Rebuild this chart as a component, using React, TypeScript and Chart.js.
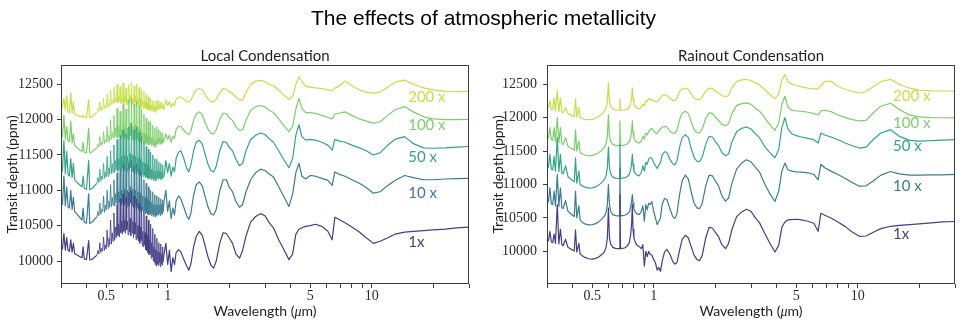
import React, { useEffect, useRef } from 'react';
import { Chart, registerables } from 'chart.js';

Chart.register(...registerables);

// ---------- wavelength grids (μm) ----------
const shortWaveLocal = [
  0.3, 0.305, 0.31, 0.315, 0.32, 0.325, 0.33, 0.335, 0.34, 0.345, 0.35, 0.355,
  0.36, 0.37, 0.38, 0.385, 0.39, 0.4, 0.41, 0.415, 0.42, 0.43, 0.44,
];

const forestWaveLocal = [
  0.45, 0.455, 0.46, 0.465, 0.47, 0.475, 0.48, 0.485, 0.49, 0.495,
  0.5, 0.505, 0.51, 0.515, 0.52, 0.525, 0.53, 0.535, 0.54, 0.545,
  0.55, 0.555, 0.56, 0.565, 0.57, 0.575, 0.58, 0.585, 0.59, 0.595,
  0.6, 0.605, 0.61, 0.615, 0.62, 0.625, 0.63, 0.635, 0.64, 0.645,
  0.65, 0.655, 0.66, 0.665, 0.67, 0.675, 0.68, 0.685, 0.69, 0.695,
  0.7, 0.705, 0.71, 0.715, 0.72, 0.725, 0.73, 0.735, 0.74, 0.745,
  0.75, 0.755, 0.76, 0.765, 0.77, 0.775, 0.78, 0.785, 0.79, 0.795,
  0.8, 0.805, 0.81, 0.815, 0.82, 0.825, 0.83, 0.835, 0.84, 0.845,
  0.85, 0.855, 0.86, 0.865, 0.87, 0.875, 0.88, 0.885, 0.89, 0.895,
  0.9, 0.905, 0.91, 0.915, 0.92, 0.925, 0.93, 0.935, 0.94, 0.945,
  0.95,
];

const shortWaveRainout = [
  0.3, 0.305, 0.31, 0.315, 0.32, 0.325, 0.33, 0.337,
  0.343, 0.349, 0.355, 0.36, 0.37, 0.38, 0.39, 0.4,
  0.408, 0.414, 0.42, 0.43, 0.436, 0.445, 0.46, 0.48,
  0.5, 0.52, 0.54, 0.56, 0.575, 0.585, 0.593, 0.6,
  0.607, 0.615, 0.63, 0.65, 0.67, 0.678, 0.683, 0.688,
  0.7, 0.72, 0.74, 0.76, 0.772, 0.78, 0.786, 0.792,
  0.8, 0.815, 0.83, 0.85, 0.87, 0.885, 0.9, 0.915,
  0.93, 0.945,
];

const irWave = [
  0.96, 0.98, 1.0, 1.02, 1.04, 1.06, 1.08, 1.1,
  1.13, 1.16, 1.2, 1.24, 1.27, 1.3, 1.34, 1.38,
  1.43, 1.48, 1.53, 1.58, 1.63, 1.68, 1.73, 1.8,
  1.87, 1.94, 2.0, 2.08, 2.16, 2.25, 2.33, 2.42,
  2.55, 2.7, 2.85, 3.0, 3.15, 3.3, 3.5, 3.7,
  3.93, 4.1, 4.25, 4.4, 4.55, 4.75, 5.0, 5.3,
  5.7, 6.1, 6.4, 6.6, 6.9, 7.4, 8.0, 8.7,
  9.4, 10.2, 11, 12, 13, 14.5, 16, 18,
  20, 23, 26, 30,
];

// ---------- Local condensation: transit depth (ppm) ----------
const local1x = [
  10160, 10170, 10390, 10155, 10330, 10145, 10140, 10300, 10125, 10250, 10105, 10095,
  10085, 10065, 10045, 10200, 10030, 10020, 10290, 10015, 10018, 10030, 10060,
  10080, 10150, 10100, 10260, 10120, 10180, 10140, 10340, 10150, 10230,
  10170, 10440, 10200, 10320, 10230, 10580, 10240, 10400, 10280, 10680,
  10300, 10480, 10330, 10800, 10360, 10520, 10340, 10880, 10400, 10560,
  10380, 10950, 10420, 10580, 10390, 10900, 10440, 10560, 10370, 10970,
  10410, 10600, 10360, 10990, 10400, 10560, 10330, 10920, 10380, 10540,
  10300, 10880, 10320, 10500, 10280, 10820, 10250, 10480, 10290, 10760,
  10220, 10420, 10200, 10700, 10230, 10400, 10160, 10640, 10150, 10360,
  10120, 10580, 10090, 10300, 10100, 10520, 10040, 10260, 10060, 10460,
  10000, 10200, 9980, 10380, 9950, 10160, 9930, 10320, 9960, 10140,
  9940, 10260, 9980, 10120, 9920, 10240, 9960, 10100, 9940, 10200,
  9990,
  10100, 10250, 9950, 10150, 9850, 10050, 9950, 10120,
  10160, 10130, 10020, 9930, 9870, 9960, 10200, 10350,
  10420, 10360, 10200, 10050, 9940, 9900, 10000, 10250,
  10400, 10390, 10330, 10250, 10100, 10040, 10150, 10350,
  10550, 10630, 10670, 10640, 10540, 10470, 10300, 10170,
  10020, 10100, 10380, 10450, 10470, 10490, 10500, 10520,
  10490, 10420, 10300, 10620, 10590, 10540, 10480, 10410,
  10330, 10250, 10280, 10330, 10380, 10410, 10420, 10430,
  10440, 10450, 10470, 10480,
];

const local10x = [
  10790, 10800, 11200, 10780, 11050, 10760, 10750, 11000, 10730, 10900, 10700, 10680,
  10660, 10620, 10580, 10750, 10550, 10535, 10950, 10530, 10540, 10560, 10600,
  10620, 10700, 10640, 10820, 10660, 10730, 10700, 10920, 10690, 10790,
  10720, 11000, 10740, 10850, 10760, 11080, 10770, 10900, 10790, 11150,
  10780, 10950, 10820, 11250, 10800, 10980, 10830, 11300, 10790, 11000,
  10820, 11380, 10780, 11020, 10810, 11320, 10760, 11000, 10800, 11400,
  10770, 11050, 10820, 11430, 10780, 11020, 10750, 11350, 10790, 11000,
  10730, 11380, 10760, 10980, 10720, 11300, 10750, 10960, 10700, 11250,
  10720, 10920, 10690, 11150, 10710, 10900, 10670, 11100, 10680, 10880,
  10660, 11050, 10650, 10850, 10670, 11000, 10640, 10830, 10660, 10980,
  10630, 10800, 10650, 10940, 10620, 10790, 10640, 10920, 10660, 10800,
  10650, 10900, 10680, 10790, 10640, 10880, 10670, 10800, 10660, 10860,
  10700,
  10850, 11000, 10700, 10850, 10600, 10750, 10650, 10850,
  10920, 10880, 10760, 10640, 10590, 10680, 10930, 11080,
  11120, 11060, 10900, 10760, 10670, 10650, 10730, 10990,
  11150, 11150, 11050, 10980, 10840, 10760, 10800, 10980,
  11150, 11250, 11300, 11280, 11230, 11190, 11050, 10920,
  10770, 10950, 11250, 11380, 11200, 11160, 11210, 11200,
  11170, 11140, 11070, 11260, 11230, 11200, 11150, 11100,
  11040, 10960, 10980, 11070, 11140, 11210, 11180, 11150,
  11150, 11160, 11165, 11170,
];

const local50x = [
  11250, 11280, 11700, 11240, 11550, 11220, 11200, 11450, 11180, 11380, 11150, 11130,
  11110, 11080, 11050, 11200, 11030, 11015, 11420, 11010, 11015, 11035, 11070,
  11100, 11180, 11110, 11300, 11130, 11200, 11160, 11380, 11170, 11260,
  11190, 11480, 11200, 11320, 11230, 11560, 11240, 11380, 11250, 11640,
  11260, 11420, 11290, 11720, 11270, 11450, 11300, 11780, 11280, 11480,
  11310, 11850, 11270, 11500, 11300, 11800, 11260, 11480, 11310, 11900,
  11280, 11520, 11320, 11950, 11270, 11500, 11250, 11860, 11290, 11480,
  11230, 11900, 11260, 11460, 11220, 11820, 11250, 11440, 11200, 11760,
  11230, 11400, 11190, 11680, 11210, 11380, 11180, 11620, 11190, 11360,
  11170, 11580, 11160, 11320, 11180, 11540, 11150, 11300, 11170, 11500,
  11140, 11280, 11160, 11450, 11130, 11260, 11150, 11440, 11170, 11280,
  11160, 11400, 11180, 11270, 11150, 11380, 11170, 11260, 11160, 11360,
  11190,
  11200, 11420, 11250, 11380, 11200, 11330, 11260, 11450,
  11540, 11560, 11450, 11310, 11260, 11360, 11560, 11680,
  11710, 11650, 11500, 11360, 11280, 11260, 11340, 11560,
  11690, 11680, 11610, 11560, 11440, 11350, 11380, 11560,
  11720, 11780, 11810, 11790, 11730, 11680, 11560, 11440,
  11320, 11450, 11780, 11925, 11760, 11710, 11720, 11710,
  11680, 11640, 11570, 11720, 11700, 11680, 11640, 11600,
  11560, 11500, 11530, 11640, 11720, 11760, 11660, 11600,
  11595, 11600, 11610, 11620,
];

const local100x = [
  11730, 11760, 12060, 11720, 11900, 11700, 11690, 11980, 11670, 11800, 11640, 11620,
  11600, 11570, 11550, 11680, 11540, 11530, 11880, 11530, 11535, 11550, 11580,
  11600, 11650, 11610, 11760, 11630, 11680, 11650, 11830, 11660, 11720,
  11680, 11900, 11690, 11780, 11700, 12000, 11720, 11820, 11740, 12060,
  11750, 11880, 11760, 12160, 11740, 11900, 11770, 12120, 11730, 11860,
  11760, 12220, 11720, 11900, 11760, 12150, 11710, 11880, 11750, 12280,
  11720, 11950, 11770, 12300, 11720, 11900, 11700, 12220, 11740, 11920,
  11700, 12260, 11730, 11880, 11690, 12200, 11720, 11860, 11670, 12150,
  11700, 11820, 11660, 12080, 11680, 11800, 11650, 12020, 11670, 11780,
  11650, 11980, 11640, 11760, 11660, 11960, 11630, 11740, 11650, 11920,
  11620, 11720, 11640, 11880, 11610, 11700, 11640, 11900, 11660, 11740,
  11650, 11860, 11680, 11740, 11650, 11830, 11670, 11730, 11660, 11810,
  11680,
  11700, 11800, 11720, 11780, 11680, 11760, 11740, 11860,
  11910, 11900, 11850, 11800, 11790, 11840, 11990, 12080,
  12110, 12070, 11950, 11860, 11810, 11800, 11860, 12000,
  12090, 12080, 12030, 11990, 11900, 11845, 11860, 11990,
  12130, 12185, 12200, 12180, 12130, 12100, 12010, 11920,
  11830, 11900, 12150, 12300, 12160, 12100, 12100, 12090,
  12060, 12030, 12010, 12080, 12090, 12110, 12060, 12010,
  11980, 11950, 11970, 12060, 12140, 12185, 12110, 12040,
  12010, 12000, 12000, 12005,
];

const local200x = [
  12120, 12200, 12300, 12130, 12340, 12110, 12100, 12380, 12090, 12250, 12080, 12070,
  12060, 12050, 12040, 12060, 12035, 12030, 12280, 12030, 12035, 12050, 12080,
  12110, 12160, 12120, 12250, 12125, 12180, 12140, 12300, 12150, 12200,
  12170, 12360, 12180, 12240, 12200, 12420, 12210, 12280, 12230, 12460,
  12240, 12300, 12250, 12500, 12235, 12320, 12260, 12470, 12230, 12290,
  12250, 12520, 12215, 12330, 12250, 12450, 12210, 12280, 12240, 12500,
  12220, 12350, 12260, 12530, 12230, 12300, 12200, 12480, 12240, 12330,
  12200, 12510, 12225, 12300, 12190, 12460, 12210, 12290, 12170, 12420,
  12190, 12260, 12160, 12400, 12180, 12250, 12150, 12350, 12160, 12230,
  12140, 12320, 12130, 12210, 12150, 12290, 12120, 12200, 12140, 12270,
  12110, 12190, 12130, 12260, 12100, 12180, 12130, 12280, 12150, 12200,
  12140, 12270, 12170, 12210, 12150, 12250, 12170, 12200, 12160, 12240,
  12180,
  12150, 12280, 12200, 12250, 12180, 12230, 12200, 12290,
  12320, 12320, 12290, 12255, 12250, 12280, 12360, 12420,
  12440, 12420, 12350, 12290, 12255, 12250, 12290, 12380,
  12440, 12430, 12400, 12370, 12320, 12280, 12280, 12380,
  12500, 12545, 12555, 12540, 12500, 12480, 12420, 12350,
  12285, 12330, 12500, 12605, 12540, 12470, 12460, 12450,
  12440, 12420, 12410, 12450, 12470, 12545, 12480, 12420,
  12390, 12375, 12390, 12460, 12530, 12560, 12500, 12450,
  12420, 12400, 12395, 12400,
];

// ---------- Rainout condensation: transit depth (ppm) ----------
const rainout1x = [
  10150, 10160, 10300, 10140, 10130, 10260, 10120, 10700,
  10110, 10330, 10095, 10085, 10180, 10060, 10040, 10020,
  10005, 10320, 9990, 10120, 9960, 9940, 9910, 9890,
  9885, 9895, 9920, 9960, 10000, 10070, 10200, 10650,
  10210, 10110, 10060, 10045, 10040, 10040, 10850, 10040,
  10045, 10050, 10075, 10130, 10260, 10420, 10700, 10330,
  10200, 10130, 10090, 10070, 10040, 10100, 9780, 10000,
  9920, 10000,
  9960, 9943, 9880, 9830, 9720, 9760, 9700, 9850,
  9990, 10030, 9960, 9850, 9810, 9830, 10020, 10180,
  10240, 10200, 10060, 9940, 9880, 9860, 9940, 10200,
  10360, 10350, 10290, 10220, 10100, 10040, 10120, 10330,
  10520, 10590, 10630, 10600, 10500, 10430, 10270, 10130,
  9990, 10090, 10360, 10440, 10470, 10475, 10480, 10470,
  10450, 10420, 10300, 10570, 10540, 10500, 10440, 10370,
  10290, 10225, 10230, 10290, 10340, 10375, 10390, 10400,
  10410, 10425, 10440, 10447,
];

const rainout10x = [
  10720, 10740, 10950, 10710, 10700, 10900, 10680, 11150,
  10670, 10950, 10650, 10640, 10760, 10600, 10570, 10540,
  10520, 10900, 10500, 10680, 10470, 10440, 10410, 10395,
  10400, 10415, 10445, 10490, 10530, 10590, 10700, 11000,
  10710, 10600, 10550, 10535, 10530, 10530, 11250, 10530,
  10535, 10540, 10555, 10590, 10670, 10750, 10850, 10720,
  10630, 10580, 10560, 10550, 10600, 10680, 10450, 10700,
  10620, 10720,
  10700, 10743, 10600, 10500, 10400, 10450, 10500, 10700,
  10790, 10780, 10640, 10520, 10490, 10560, 10850, 11060,
  11140, 11080, 10880, 10720, 10650, 10640, 10720, 10980,
  11140, 11130, 11060, 10980, 10830, 10750, 10800, 11020,
  11230, 11320, 11370, 11340, 11260, 11190, 11010, 10870,
  10745, 10900, 11200, 11320, 11220, 11200, 11190, 11185,
  11175, 11150, 11070, 11300, 11250, 11200, 11150, 11090,
  11030, 10975, 10980, 11060, 11140, 11195, 11160, 11140,
  11140, 11145, 11145, 11150,
];

const rainout50x = [
  11240, 11260, 11450, 11230, 11220, 11420, 11200, 11700,
  11190, 11450, 11170, 11160, 11280, 11120, 11090, 11060,
  11040, 11400, 11020, 11200, 11000, 10980, 10960, 10945,
  10950, 10965, 10995, 11040, 11080, 11140, 11250, 11560,
  11260, 11160, 11110, 11095, 11090, 11090, 11600, 11090,
  11095, 11100, 11115, 11150, 11230, 11320, 11450, 11300,
  11200, 11160, 11140, 11130, 11180, 11280, 11200, 11330,
  11300, 11380,
  11400, 11392, 11330, 11280, 11240, 11290, 11330, 11440,
  11490, 11480, 11380, 11310, 11290, 11350, 11560, 11700,
  11745, 11700, 11530, 11400, 11350, 11340, 11410, 11600,
  11720, 11710, 11650, 11580, 11480, 11430, 11460, 11640,
  11790, 11840, 11860, 11830, 11760, 11700, 11570, 11480,
  11400, 11520, 11850, 12000, 11830, 11760, 11730, 11710,
  11690, 11670, 11620, 11770, 11740, 11710, 11670, 11620,
  11580, 11545, 11560, 11680, 11770, 11820, 11720, 11660,
  11650, 11655, 11665, 11672,
];

const rainout100x = [
  11680, 11700, 11850, 11670, 11660, 11850, 11640, 12000,
  11630, 11850, 11610, 11600, 11700, 11570, 11550, 11530,
  11510, 11820, 11500, 11650, 11480, 11460, 11440, 11430,
  11435, 11450, 11480, 11520, 11560, 11620, 11720, 12040,
  11730, 11640, 11600, 11585, 11580, 11580, 11950, 11580,
  11585, 11590, 11605, 11640, 11710, 11800, 11950, 11780,
  11690, 11650, 11630, 11620, 11650, 11720, 11680, 11770,
  11740, 11790,
  11820, 11842, 11800, 11770, 11760, 11800, 11830, 11860,
  11870, 11860, 11800, 11770, 11765, 11810, 11970, 12070,
  12095, 12060, 11930, 11820, 11775, 11770, 11830, 11990,
  12070, 12065, 12010, 11960, 11900, 11880, 11910, 12060,
  12180, 12210, 12220, 12200, 12140, 12100, 12000, 11900,
  11810, 11920, 12200, 12320, 12160, 12110, 12100, 12095,
  12080, 12060, 12040, 12100, 12110, 12090, 12040, 12000,
  11970, 11950, 11960, 12080, 12170, 12215, 12120, 12040,
  12010, 12000, 11998, 11997,
];

const rainout200x = [
  12130, 12150, 12250, 12120, 12115, 12300, 12100, 12400,
  12090, 12300, 12080, 12075, 12150, 12060, 12045, 12030,
  12020, 12280, 12010, 12150, 12000, 11990, 11975, 11970,
  11975, 11990, 12020, 12060, 12100, 12150, 12240, 12520,
  12250, 12170, 12130, 12115, 12110, 12110, 12290, 12110,
  12110, 12115, 12125, 12160, 12220, 12300, 12445, 12280,
  12200, 12160, 12140, 12130, 12150, 12200, 12180, 12250,
  12240, 12280,
  12280, 12268, 12250, 12240, 12235, 12260, 12300, 12330,
  12343, 12330, 12290, 12260, 12255, 12290, 12390, 12430,
  12442, 12420, 12350, 12290, 12270, 12268, 12310, 12400,
  12440, 12435, 12400, 12370, 12330, 12310, 12330, 12450,
  12540, 12565, 12570, 12555, 12520, 12490, 12420, 12350,
  12280, 12350, 12560, 12645, 12540, 12500, 12480, 12460,
  12440, 12430, 12430, 12480, 12540, 12545, 12470, 12420,
  12390, 12372, 12390, 12470, 12540, 12572, 12500, 12440,
  12410, 12400, 12398, 12397,
];

// ---------- labels, ticks, colours ----------
const seriesNames = ['1x', '10 x', '50 x', '100 x', '200 x'];
const seriesColors = ['#433e85', '#3b7c8f', '#36a389', '#7ccd6b', '#c4df48'];
const yTickValues = [10000, 10500, 11000, 11500, 12000, 12500];
const xTickValues = [
  0.3, 0.4, 0.5, 0.6, 0.7, 0.8, 0.9, 1, 2, 3, 4, 5, 6, 7, 8, 9, 10, 20, 30,
];
const xLabelled = [0.5, 1, 5, 10];

type Panel = {
  title: string;
  wave: number[];
  series: number[][];
  yMin: number;
  yMax: number;
  canvasLeft: number;
  canvasWidth: number;
  axisWidth: number;
  padRight: number;
  padTop: number;
  tickPad: number;
  yTitleX: number;
  thinForest: boolean;
  labelAt: [number, number][];
};

const panels: Panel[] = [
  {
    title: 'Local Condensation',
    wave: [...shortWaveLocal, ...forestWaveLocal, ...irWave],
    series: [local1x, local10x, local50x, local100x, local200x],
    yMin: 9675,
    yMax: 12773,
    canvasLeft: 0,
    canvasWidth: 480,
    axisWidth: 61,
    padRight: 11,
    padTop: 65,
    tickPad: 4,
    yTitleX: 12,
    thinForest: true,
    labelAt: [[15.1, 10262], [15.1, 10962], [15.1, 11476], [15.1, 11924], [15.1, 12325]],
  },
  {
    title: 'Rainout Condensation',
    wave: [...shortWaveRainout, ...irWave],
    series: [rainout1x, rainout10x, rainout50x, rainout100x, rainout200x],
    yMin: 9512,
    yMax: 12787,
    canvasLeft: 480,
    canvasWidth: 487,
    axisWidth: 67,
    padRight: 12,
    padTop: 65,
    tickPad: 6,
    yTitleX: 18.5,
    thinForest: false,
    labelAt: [[14.9, 10262], [14.9, 10975], [14.9, 11575], [14.9, 11920], [14.9, 12325]],
  },
];

const CANVAS_H = 324;
const SANS = "Lato, 'DejaVu Sans', sans-serif";
const SERIF = "'Liberation Serif', 'DejaVu Serif', serif";

// Frame, panel title, axis titles and series labels drawn over the plot.
const decorPlugin = {
  id: 'decor',
  afterDraw(chart: any, _args: any, opts: any) {
    const { ctx, chartArea: a, scales } = chart;
    ctx.save();

    ctx.strokeStyle = '#3c3c3c';
    ctx.lineWidth = 1;
    ctx.strokeRect(
      Math.round(a.left) + 0.5,
      Math.round(a.top) + 0.5,
      Math.round(a.right - a.left) - 1,
      Math.round(a.bottom - a.top) - 1,
    );

    ctx.fillStyle = '#1e1e1e';
    ctx.font = `15px ${SANS}`;
    ctx.textAlign = 'center';
    ctx.textBaseline = 'alphabetic';
    ctx.fillText(opts.title, (a.left + a.right) / 2, a.top - 4);

    // x-axis title with an italic mu
    const partA = 'Wavelength (';
    const partB = 'μ';
    const partC = 'm)';
    ctx.font = `14px ${SANS}`;
    const wA = ctx.measureText(partA).width;
    const wC = ctx.measureText(partC).width;
    ctx.font = `italic 14px ${SERIF}`;
    const wB = ctx.measureText(partB).width;
    let x0 = (a.left + a.right) / 2 - (wA + wB + wC) / 2;
    const yb = 316;
    ctx.textAlign = 'left';
    ctx.font = `14px ${SANS}`;
    ctx.fillText(partA, x0, yb);
    x0 += wA;
    ctx.font = `italic 14px ${SERIF}`;
    ctx.fillText(partB, x0, yb);
    x0 += wB;
    ctx.font = `14px ${SANS}`;
    ctx.fillText(partC, x0, yb);

    // y-axis title
    ctx.save();
    ctx.translate(opts.yTitleX, (a.top + a.bottom) / 2);
    ctx.rotate(-Math.PI / 2);
    ctx.textAlign = 'center';
    ctx.textBaseline = 'middle';
    ctx.font = `14px ${SANS}`;
    ctx.fillText('Transit depth (ppm)', 0, 0);
    ctx.restore();

    // series labels
    ctx.font = `15px ${SANS}`;
    ctx.textAlign = 'left';
    ctx.textBaseline = 'middle';
    opts.labels.forEach((lab: any) => {
      ctx.fillStyle = lab.color;
      ctx.fillText(lab.text, scales.x.getPixelForValue(lab.x), scales.y.getPixelForValue(lab.y));
    });

    ctx.restore();
  },
};

function SpectrumPanel({ panel }: { panel: Panel }) {
  const ref = useRef<HTMLCanvasElement | null>(null);

  useEffect(() => {
    if (!ref.current) return;
    const forestStart = forestWaveLocal[0];
    const forestEnd = forestWaveLocal[forestWaveLocal.length - 1];
    const datasets = panel.series.map((vals, i) => ({
      label: seriesNames[i],
      data: vals.map((v, j) => ({ x: panel.wave[j], y: v })),
      borderColor: seriesColors[i],
      borderWidth: 1.2,
      borderJoinStyle: 'round' as const,
      pointRadius: 0,
      tension: 0,
      fill: false,
      segment: {
        // the dense optical line forest is drawn with a finer stroke
        borderWidth: (c: any) =>
          panel.thinForest && c.p0.parsed.x >= forestStart && c.p1.parsed.x <= forestEnd
            ? 0.85
            : undefined,
      },
    }));

    const tickGrid = {
      display: true,
      drawOnChartArea: false,
      drawTicks: true,
      tickLength: 4,
      tickColor: '#3c3c3c',
      tickWidth: 1,
    };

    const chart = new Chart(ref.current, {
      type: 'line',
      data: { datasets },
      plugins: [decorPlugin],
      options: {
        animation: false,
        responsive: false,
        events: [],
        layout: { padding: { top: panel.padTop, right: panel.padRight, left: 0, bottom: 0 } },
        plugins: {
          legend: { display: false },
          tooltip: { enabled: false },
          decor: {
            title: panel.title,
            yTitleX: panel.yTitleX,
            labels: panel.labelAt.map(([x, y], i) => ({
              x,
              y,
              text: seriesNames[i],
              color: seriesColors[i],
            })),
          },
        } as any,
        scales: {
          x: {
            type: 'logarithmic',
            min: 0.3,
            max: 30,
            bounds: 'data',
            afterBuildTicks: (s: any) => {
              s.ticks = xTickValues.map((v) => ({ value: v }));
            },
            afterFit: (s: any) => {
              s.height = CANVAS_H - 284;
            },
            grid: tickGrid,
            border: { display: false },
            ticks: {
              autoSkip: false,
              maxRotation: 0,
              minRotation: 0,
              padding: 0,
              color: '#2a2a2a',
              font: { family: SERIF, size: 14 },
              callback: (v: any) => (xLabelled.includes(Number(v)) ? String(v) : ''),
            },
          },
          y: {
            type: 'linear',
            min: panel.yMin,
            max: panel.yMax,
            bounds: 'data',
            afterBuildTicks: (s: any) => {
              s.ticks = yTickValues.map((v) => ({ value: v }));
            },
            afterFit: (s: any) => {
              s.width = panel.axisWidth;
            },
            grid: tickGrid,
            border: { display: false },
            ticks: {
              padding: panel.tickPad,
              color: '#2a2a2a',
              font: { family: SERIF, size: 14 },
              callback: (v: any) => String(v),
            },
          },
        },
      } as any,
    });
    return () => chart.destroy();
  }, [panel]);

  return (
    <canvas
      ref={ref}
      width={panel.canvasWidth}
      height={CANVAS_H}
      style={{
        position: 'absolute',
        left: panel.canvasLeft,
        top: 0,
        width: panel.canvasWidth,
        height: CANVAS_H,
      }}
    />
  );
}

export default function App() {
  return (
    <div
      style={{
        position: 'absolute',
        left: 0,
        top: 0,
        width: 967,
        height: CANVAS_H,
        background: '#ffffff',
        overflow: 'hidden',
      }}
    >
      {panels.map((p) => (
        <SpectrumPanel key={p.title} panel={p} />
      ))}
      <div
        style={{
          position: 'absolute',
          left: 0,
          top: 6,
          width: 967,
          textAlign: 'center',
          fontFamily: "'Liberation Sans', Arial, sans-serif",
          fontSize: 21,
          lineHeight: '24px',
          color: '#000',
        }}
      >
        The effects of atmospheric metallicity
      </div>
    </div>
  );
}
